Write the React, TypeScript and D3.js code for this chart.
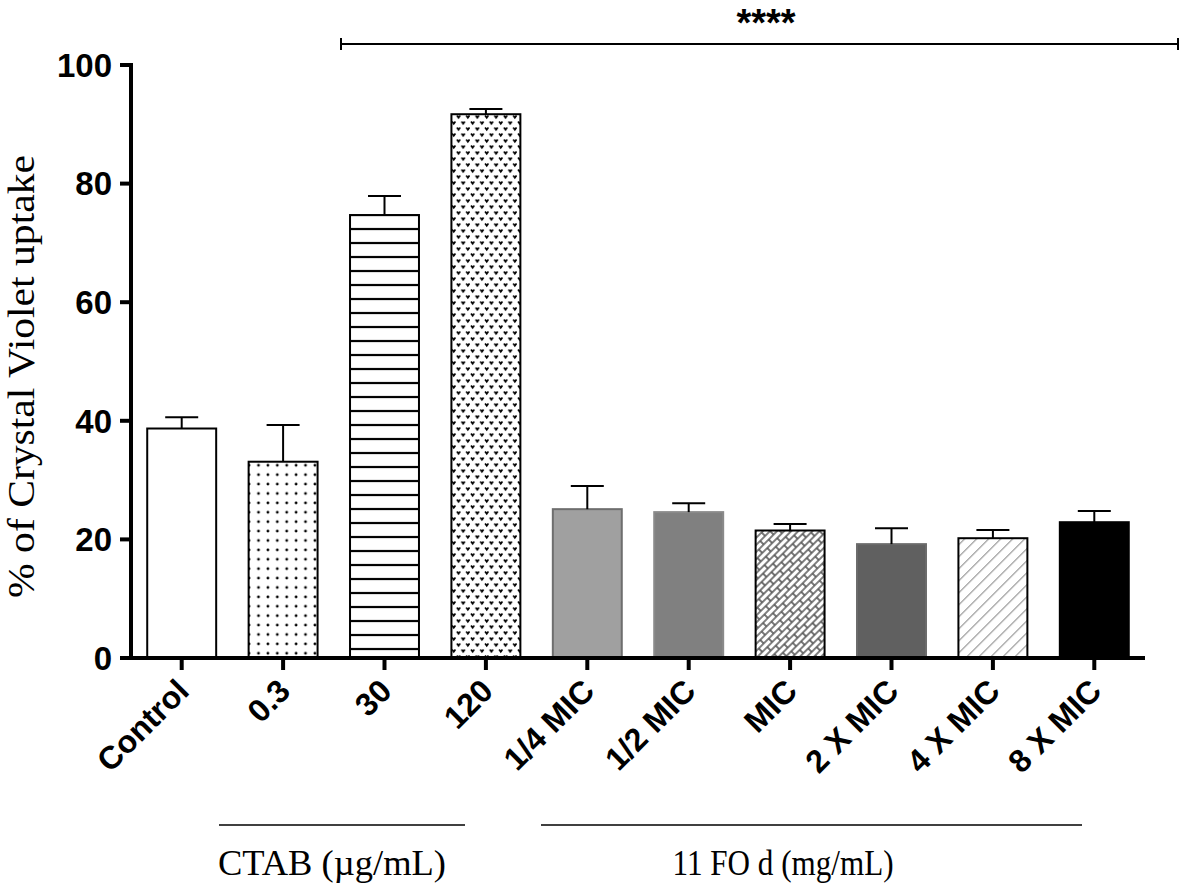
import React from 'react'
import * as d3 from 'd3'

const categories = ['Control', '0.3', '30', '120', '1/4 MIC', '1/2 MIC', 'MIC', '2 X MIC', '4 X MIC', '8 X MIC']
const means = [38.7, 33.1, 74.7, 91.7, 25.1, 24.6, 21.5, 19.2, 20.2, 22.9]
const errors = [1.9, 6.2, 3.2, 0.9, 3.9, 1.5, 1.1, 2.7, 1.4, 1.9]
const fills = ['#ffffff', 'url(#dots)', 'url(#hlines)', 'url(#vees)', '#a0a0a0', '#808080', 'url(#bricks)', '#606060', 'url(#hatch)', '#000000']
const strokes = ['#000', '#000', '#000', '#000', '#6e6e6e', '#8a8a8a', '#000', '#6a6a6a', '#000', '#000']
const yTicks = [0, 20, 40, 60, 80, 100]
const groups = [
  { label: 'CTAB (\u00b5g/mL)', from: 219, to: 465, center: 332, width: 228 },
  { label: '11 FO d (mg/mL)', from: 541, to: 1082, center: 783, width: 221 },
]

const W = 1181
const H = 887
const margin = { top: 65, left: 131, bottom: 229, right: 36 }

export default function App() {
  const x = d3.scaleBand<string>()
    .domain(categories)
    .range([margin.left, W - margin.right])
    .paddingInner(0.32)
    .paddingOuter(0.16)
  const y = d3.scaleLinear().domain([0, 100]).range([H - margin.bottom, margin.top])
  const y0 = y(0)
  const bw = x.bandwidth()

  return (
    <svg width={W} height={H} style={{ position: 'absolute', left: 0, top: 0, background: '#fff' }}>
      <defs>
        <pattern id="dots" width="9.4" height="9.4" patternUnits="userSpaceOnUse">
          <circle cx="4.7" cy="4.7" r="1.4" fill="#000" />
        </pattern>
        <pattern id="hlines" width="10" height="14" patternUnits="userSpaceOnUse" y={y(means[2])}>
          <line x1="0" x2="10" y1="0" y2="0" stroke="#000" strokeWidth="2.2" />
          <line x1="0" x2="10" y1="14" y2="14" stroke="#000" strokeWidth="2.2" />
        </pattern>
        <pattern id="vees" width="9.4" height="12" patternUnits="userSpaceOnUse">
          <path d="M1,1.5 L2.6,3.8 L4.2,1.5 M5.7,7.5 L7.3,9.8 L8.9,7.5" stroke="#000" strokeWidth="1.6" fill="none" />
        </pattern>
        <pattern id="bricks" width="14" height="10" patternUnits="userSpaceOnUse" patternTransform="rotate(-45)">
          <rect width="14" height="10" fill="#fff" />
          <path d="M0,0 H14 M0,5 H14 M0,10 H14 M1,0 V5 M8,5 V10" stroke="#555" strokeWidth="1.6" fill="none" />
        </pattern>
        <pattern id="hatch" width="8.5" height="8.5" patternUnits="userSpaceOnUse" patternTransform="rotate(45)">
          <rect width="8.5" height="8.5" fill="#fff" />
          <line x1="0" x2="0" y1="0" y2="8.5" stroke="#999" strokeWidth="2.4" />
        </pattern>
      </defs>

      {/* bars */}
      {categories.map((c, i) => (
        <rect key={c} x={x(c)} y={y(means[i])} width={bw} height={y0 - y(means[i])}
          fill={fills[i]} stroke={strokes[i]} strokeWidth={2} />
      ))}

      {/* error bars */}
      {categories.map((c, i) => {
        const cx = (x(c) as number) + bw / 2
        return (
          <g key={'e' + c} stroke="#000" strokeWidth={2}>
            <line x1={cx} x2={cx} y1={y(means[i])} y2={y(means[i] + errors[i])} />
            <line x1={cx - 16.5} x2={cx + 16.5} y1={y(means[i] + errors[i])} y2={y(means[i] + errors[i])} />
          </g>
        )
      })}

      {/* y axis */}
      <line x1={margin.left} x2={margin.left} y1={y(100) - 2} y2={y0 + 2} stroke="#000" strokeWidth={4} />
      {yTicks.map(t => (
        <g key={t}>
          <line x1={margin.left - 11} x2={margin.left} y1={y(t)} y2={y(t)} stroke="#000" strokeWidth={4} />
          <text x={margin.left - 19} y={y(t)} dy="0.36em" textAnchor="end"
            fontFamily="Liberation Sans, Arial, sans-serif" fontWeight="bold" fontSize={33}>{t}</text>
        </g>
      ))}

      {/* x axis */}
      <line x1={margin.left - 2} x2={W - margin.right} y1={y0} y2={y0} stroke="#000" strokeWidth={4} />
      {categories.map(c => {
        const cx = (x(c) as number) + bw / 2
        return (
          <g key={'t' + c}>
            <line x1={cx} x2={cx} y1={y0} y2={y0 + 12} stroke="#000" strokeWidth={4} />
            <text transform={`translate(${cx + 9},${y0 + 35}) rotate(-45)`} textAnchor="end"
              fontFamily="Liberation Sans, Arial, sans-serif" fontWeight="bold" fontSize={32}>{c}</text>
          </g>
        )
      })}

      {/* y label */}
      <text transform={`translate(34,${(y(100) + y0) / 2 + 15}) rotate(-90)`} textAnchor="middle"
        fontFamily="Liberation Serif, Times New Roman, serif" fontSize={37}
        textLength={443} lengthAdjust="spacingAndGlyphs">% of Crystal Violet uptake</text>

      {/* group labels */}
      {groups.map(g => (
        <g key={g.label}>
          <line x1={g.from} x2={g.to} y1={825} y2={825} stroke="#000" strokeWidth={1.5} />
          <text x={g.center} y={875} textAnchor="middle"
            fontFamily="Liberation Serif, Times New Roman, serif" fontSize={36}
            textLength={g.width} lengthAdjust="spacingAndGlyphs">{g.label}</text>
        </g>
      ))}

      {/* significance */}
      <g stroke="#000" strokeWidth={2}>
        <line x1={341} x2={1178} y1={44} y2={44} />
        <line x1={341} x2={341} y1={38} y2={50} />
        <line x1={1178} x2={1178} y1={38} y2={50} />
      </g>
      <text x={766} y={36} textAnchor="middle" fontFamily="Liberation Sans, Arial, sans-serif"
        fontWeight="bold" fontSize={38}>****</text>
    </svg>
  )
}
